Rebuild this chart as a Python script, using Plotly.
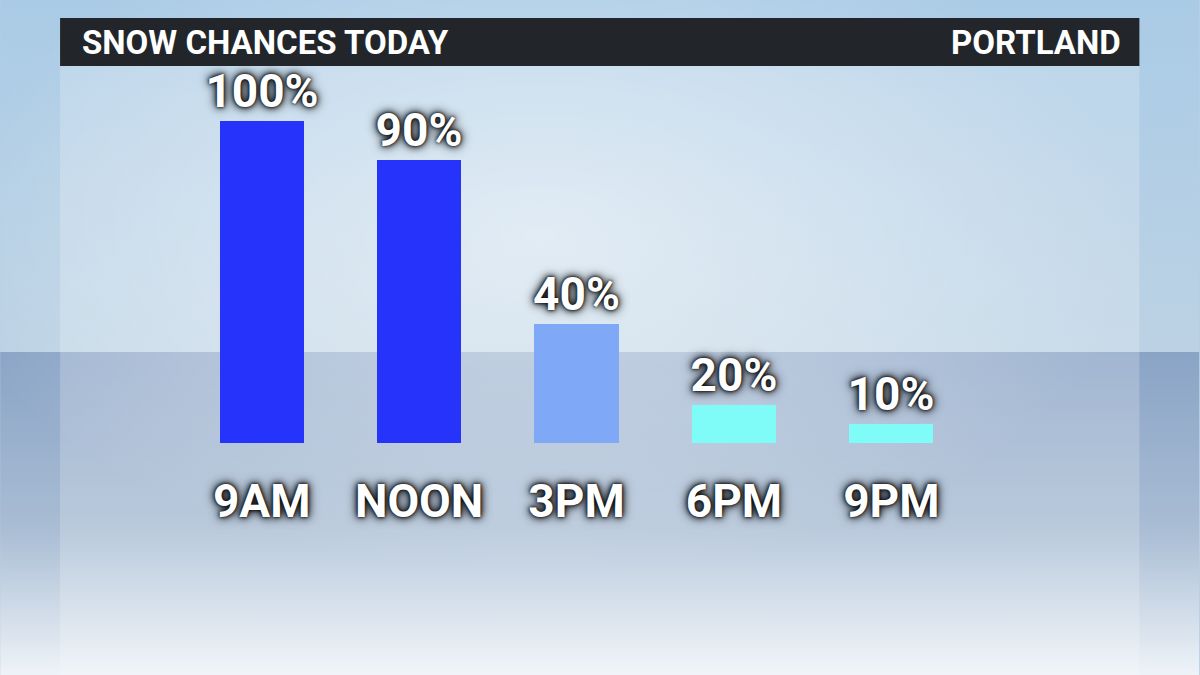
import base64
import plotly.graph_objects as go

# ---- data ----
times = ["9AM", "NOON", "3PM", "6PM", "9PM"]
chance_pct = [100, 90, 40, 20, 10]                  # printed values
drawn_height = [100, 88, 37, 11.8, 5.9]              # bar heights as drawn in the graphic (relative to 9AM bar)
bar_colors = ["#2633fb", "#2633fb", "#7fa9f7", "#7ffcf8", "#7ffcf8"]
title_left = "SNOW CHANCES TODAY"
title_right = "PORTLAND"

# ---- layout geometry (pixels) ----
W, H = 1200, 675
L, R, T, B = 183, 229.5, 66, 232
PW, PH = W - L - R, H - T - B

def fx(p):
    return (p - L) / PW

def fy(p):
    return (H - B - p) / PH

FONT = "Roboto, 'Liberation Sans', Arial, sans-serif"
SHADOW = "0px 0px 3px #000, 0px 0px 7px #000, 0px 0px 12px rgba(0,0,0,0.85)"

# background drawn as an SVG gradient image
svg = f"""<svg xmlns='http://www.w3.org/2000/svg' width='{W}' height='{H}'>
<defs>
<linearGradient id='sky' x1='0' y1='0' x2='0' y2='1'>
<stop offset='0' stop-color='#aacbe6'/><stop offset='1' stop-color='#bcd2e4'/></linearGradient>
<linearGradient id='gnd' x1='0' y1='0' x2='0' y2='1'>
<stop offset='0' stop-color='#8aa4c6'/><stop offset='0.55' stop-color='#a9bdd4'/><stop offset='1' stop-color='#eef3f8'/></linearGradient>
<radialGradient id='glow' cx='0.45' cy='0.35' r='0.5'>
<stop offset='0' stop-color='#ffffff' stop-opacity='0.5'/><stop offset='1' stop-color='#ffffff' stop-opacity='0'/></radialGradient>
</defs>
<rect x='0' y='0' width='{W}' height='352' fill='url(#sky)'/>
<rect x='0' y='352' width='{W}' height='{H-352}' fill='url(#gnd)'/>
<rect x='60' y='66' width='1080' height='{H-66}' fill='#ffffff' fill-opacity='0.2'/>
<rect x='0' y='0' width='{W}' height='{H}' fill='url(#glow)'/>
</svg>"""
src = "data:image/svg+xml;base64," + base64.b64encode(svg.encode()).decode()

fig = go.Figure()
fig.add_trace(go.Bar(
    x=times,
    y=drawn_height,
    marker=dict(color=bar_colors, line=dict(width=0)),
    width=0.535,
    text=[f"{v}%" for v in chance_pct],
    textposition="outside",
    constraintext="none",
    textfont=dict(family=FONT, size=46, color="white", weight=700, shadow=SHADOW),
    cliponaxis=False,
    hoverinfo="skip",
))

fig.update_layout(
    width=W, height=H,
    margin=dict(l=L, r=R, t=T, b=B),
    paper_bgcolor="#b8cfe2",
    plot_bgcolor="rgba(0,0,0,0)",
    showlegend=False,
    bargap=0.0,
    images=[dict(source=src, xref="paper", yref="paper", x=fx(0), y=fy(0),
                 sizex=W / PW, sizey=H / PH, xanchor="left", yanchor="top",
                 sizing="stretch", layer="below")],
    shapes=[dict(type="rect", xref="paper", yref="paper",
                 x0=fx(60), x1=fx(1140), y0=fy(66), y1=fy(18),
                 fillcolor="#22262a", line=dict(width=0), layer="above")],
    annotations=[
        dict(text=title_left, xref="paper", yref="paper", x=fx(80), y=fy(43),
             xanchor="left", yanchor="middle", showarrow=False,
             font=dict(family=FONT, size=33, color="white", weight=700)),
        dict(text=title_right, xref="paper", yref="paper", x=fx(1124), y=fy(43),
             xanchor="right", yanchor="middle", showarrow=False,
             font=dict(family=FONT, size=33, color="white", weight=700)),
    ],
)
fig.update_xaxes(
    range=[-0.5, 4.5], showgrid=False, zeroline=False, showline=False,
    ticks="outside", ticklen=18, tickcolor="rgba(0,0,0,0)",
    tickfont=dict(family=FONT, size=46, color="white", weight=700, shadow=SHADOW),
)
fig.update_yaxes(range=[0, PH / 3.22], showgrid=False, zeroline=False,
                 showline=False, showticklabels=False, ticks="")

fig.write_html("out.html", config={"displayModeBar": False},
               post_script="document.body.style.margin='0';document.body.style.overflow='hidden';")
